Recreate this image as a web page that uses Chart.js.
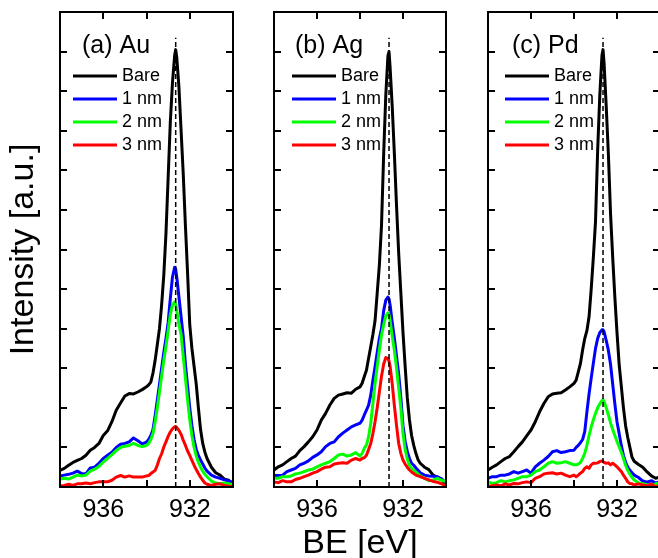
<!DOCTYPE html>
<html>
<head>
<meta charset="utf-8">
<script src="https://cdn.jsdelivr.net/npm/chart.js@4.4.0/dist/chart.umd.min.js"></script>
<style>
  html, body { margin: 0; padding: 0; background: #fff; width: 658px; height: 558px; overflow: hidden; }
  canvas { position: absolute; top: 0; }
</style>
</head>
<body>
<canvas id="panelA" width="250" height="558" style="left:0px"></canvas>
<canvas id="panelB" width="210" height="558" style="left:250px"></canvas>
<canvas id="panelC" width="220" height="558" style="left:460px"></canvas>
<script>
// Binding energy grid (eV), finer around the Cu 2p3/2 peak
const bindingEnergy = [
  938.0, 937.8, 937.6, 937.4, 937.2, 937.0, 936.8, 936.6, 936.4, 936.2,
  936.0, 935.8, 935.6, 935.4, 935.2, 935.0, 934.8, 934.6, 934.4, 934.2,
  934.0, 933.9, 933.8, 933.7, 933.6, 933.5, 933.4, 933.3, 933.2, 933.1,
  933.0, 932.9, 932.8, 932.7, 932.65, 932.6, 932.5, 932.4, 932.3, 932.2,
  932.1, 932.0, 931.9, 931.8, 931.7, 931.6, 931.5, 931.4, 931.3, 931.2,
  931.0, 930.8, 930.6, 930.4, 930.2, 930.0
];

const seriesNames = ['Bare', '1 nm', '2 nm', '3 nm'];
const seriesColors = ['#000000', '#0000ff', '#00ff00', '#ff0000'];
const xTickLabels = [936, 932];
const peakPosition = 932.65;
const dashTop = 11.35;

// (a) Au
const auBare = [
  0.42, 0.47, 0.55, 0.62, 0.67, 0.72, 0.80, 0.93, 1.00, 1.10,
  1.30, 1.42, 1.65, 1.94, 2.12, 2.30, 2.36, 2.35, 2.40, 2.46,
  2.53, 2.58, 2.65, 2.88, 3.20, 3.60, 4.00, 4.60, 5.35, 6.40,
  7.80, 9.20, 10.2, 10.9, 11.05, 10.85, 10.1, 9.00, 7.90, 6.60,
  5.40, 4.10, 3.50, 3.05, 2.60, 2.00, 1.45, 1.10, 0.88, 0.72,
  0.50, 0.36, 0.30, 0.20, 0.17, 0.04
];
const au1nm = [
  0.28, 0.30, 0.32, 0.35, 0.40, 0.34, 0.33, 0.48, 0.50, 0.60,
  0.72, 0.80, 0.88, 1.00, 1.08, 1.10, 1.14, 1.24, 1.17, 1.09,
  1.13, 1.20, 1.30, 1.45, 1.80, 2.20, 2.60, 3.00, 3.40, 3.75,
  4.15, 4.75, 5.30, 5.55, 5.50, 5.30, 4.80, 4.30, 3.80, 3.10,
  2.55, 2.00, 1.55, 1.20, 0.95, 0.80, 0.68, 0.58, 0.48, 0.40,
  0.30, 0.25, 0.22, 0.18, 0.15, 0.12
];
const au2nm = [
  0.20, 0.22, 0.20, 0.25, 0.30, 0.28, 0.30, 0.40, 0.45, 0.52,
  0.63, 0.72, 0.82, 0.92, 1.00, 1.03, 1.05, 1.10, 1.05, 1.02,
  1.05, 1.10, 1.20, 1.35, 1.65, 2.00, 2.40, 2.80, 3.20, 3.55,
  3.95, 4.35, 4.60, 4.67, 4.62, 4.45, 4.10, 3.85, 3.30, 2.75,
  2.20, 1.70, 1.30, 1.00, 0.78, 0.62, 0.50, 0.40, 0.32, 0.26,
  0.15, 0.10, 0.08, 0.10, 0.08, 0.06
];
const au3nm = [
  0.03, 0.04, 0.07, 0.04, 0.08, 0.08, 0.10, 0.08, 0.11, 0.13,
  0.13, 0.13, 0.17, 0.25, 0.29, 0.25, 0.28, 0.25, 0.25, 0.25,
  0.28, 0.29, 0.34, 0.38, 0.42, 0.55, 0.72, 0.84, 1.01, 1.14,
  1.28, 1.39, 1.47, 1.52, 1.53, 1.50, 1.43, 1.33, 1.18, 1.05,
  0.91, 0.80, 0.67, 0.55, 0.44, 0.34, 0.25, 0.17, 0.10, 0.07,
  0.04, 0.07, 0.08, 0.04, 0.02, 0.00
];

// (b) Ag
const agBare = [
  0.43, 0.51, 0.56, 0.64, 0.72, 0.78, 0.92, 1.02, 1.14, 1.27,
  1.44, 1.69, 1.86, 2.07, 2.24, 2.32, 2.35, 2.38, 2.37, 2.47,
  2.53, 2.62, 2.79, 2.95, 3.25, 3.55, 3.85, 4.20, 4.90, 5.60,
  6.60, 8.40, 9.90, 10.9, 11.0, 10.6, 9.60, 8.40, 7.10, 5.90,
  4.90, 3.90, 3.05, 2.25, 1.70, 1.30, 1.05, 0.85, 0.69, 0.60,
  0.50, 0.44, 0.30, 0.25, 0.20, 0.04
];
const ag1nm = [
  0.29, 0.29, 0.30, 0.39, 0.43, 0.47, 0.56, 0.60, 0.66, 0.75,
  0.81, 0.89, 1.02, 1.10, 1.14, 1.27, 1.36, 1.44, 1.52, 1.57,
  1.61, 1.69, 1.82, 1.94, 2.07, 2.32, 2.70, 3.04, 3.40, 3.75,
  4.00, 4.45, 4.72, 4.80, 4.75, 4.60, 4.15, 3.75, 3.30, 2.85,
  2.25, 1.55, 1.15, 0.90, 0.72, 0.60, 0.55, 0.48, 0.42, 0.36,
  0.30, 0.28, 0.27, 0.26, 0.20, 0.12
];
const ag2nm = [
  0.22, 0.22, 0.26, 0.26, 0.28, 0.33, 0.35, 0.39, 0.43, 0.45,
  0.51, 0.56, 0.60, 0.64, 0.72, 0.81, 0.83, 0.78, 0.81, 0.87,
  0.78, 0.85, 0.98, 1.06, 1.27, 1.61, 2.11, 2.62, 3.04, 3.46,
  3.84, 4.10, 4.32, 4.40, 4.35, 4.20, 3.80, 3.45, 3.00, 2.50,
  2.00, 1.35, 0.95, 0.70, 0.55, 0.47, 0.42, 0.38, 0.33, 0.28,
  0.22, 0.16, 0.18, 0.22, 0.17, 0.14
];
const ag3nm = [
  0.13, 0.11, 0.16, 0.13, 0.13, 0.19, 0.22, 0.26, 0.30, 0.35,
  0.39, 0.45, 0.50, 0.51, 0.58, 0.60, 0.61, 0.60, 0.68, 0.72,
  0.68, 0.72, 0.74, 0.80, 0.95, 1.10, 1.35, 1.65, 2.00, 2.40,
  2.80, 3.10, 3.27, 3.25, 3.18, 3.05, 2.60, 2.05, 1.55, 1.10,
  0.85, 0.68, 0.58, 0.50, 0.43, 0.38, 0.34, 0.30, 0.28, 0.26,
  0.22, 0.18, 0.14, 0.12, 0.08, 0.03
];

// (c) Pd
const pdBare = [
  0.43, 0.50, 0.56, 0.64, 0.72, 0.77, 0.89, 1.02, 1.14, 1.29,
  1.44, 1.65, 1.90, 2.11, 2.28, 2.35, 2.37, 2.38, 2.45, 2.53,
  2.62, 2.70, 2.91, 3.12, 3.46, 3.75, 3.95, 4.30, 5.00, 5.80,
  6.70, 8.50, 9.90, 10.9, 11.05, 10.7, 9.60, 8.40, 6.90, 5.80,
  4.80, 3.90, 3.10, 2.55, 2.00, 1.55, 1.25, 1.00, 0.75, 0.65,
  0.57, 0.50, 0.38, 0.28, 0.22, 0.26
];
const pd1nm = [
  0.22, 0.26, 0.26, 0.30, 0.30, 0.33, 0.39, 0.35, 0.39, 0.43,
  0.35, 0.51, 0.60, 0.68, 0.77, 0.89, 0.92, 0.87, 0.89, 0.92,
  0.93, 1.00, 1.05, 1.12, 1.20, 1.40, 1.90, 2.35, 2.75, 3.13,
  3.50, 3.75, 3.90, 3.97, 3.97, 3.92, 3.70, 3.45, 3.10, 2.60,
  2.10, 1.65, 1.35, 1.05, 0.80, 0.62, 0.50, 0.42, 0.36, 0.30,
  0.24, 0.15, 0.12, 0.16, 0.10, 0.14
];
const pd2nm = [
  0.13, 0.09, 0.11, 0.16, 0.13, 0.16, 0.18, 0.22, 0.26, 0.26,
  0.30, 0.39, 0.43, 0.51, 0.60, 0.64, 0.60, 0.61, 0.64, 0.60,
  0.56, 0.56, 0.58, 0.62, 0.72, 0.85, 1.05, 1.30, 1.52, 1.70,
  1.86, 2.00, 2.10, 2.18, 2.20, 2.16, 2.00, 1.82, 1.62, 1.45,
  1.30, 1.15, 1.02, 0.88, 0.72, 0.55, 0.42, 0.32, 0.24, 0.18,
  0.10, 0.08, 0.06, 0.05, 0.08, 0.10
];
const pd3nm = [
  0.01, 0.03, 0.05, 0.03, 0.08, 0.05, 0.09, 0.08, 0.11, 0.13,
  0.11, 0.22, 0.26, 0.33, 0.35, 0.36, 0.33, 0.35, 0.30, 0.26,
  0.30, 0.26, 0.30, 0.35, 0.39, 0.47, 0.51, 0.47, 0.56, 0.60,
  0.60, 0.61, 0.64, 0.66, 0.64, 0.62, 0.60, 0.61, 0.56, 0.60,
  0.56, 0.51, 0.45, 0.39, 0.30, 0.22, 0.13, 0.09, 0.08, 0.05,
  0.08, 0.05, 0.03, 0.08, 0.00, 0.05
];

const fontFamily = '"Liberation Sans", Arial, Helvetica, sans-serif';
Chart.defaults.font.family = fontFamily;
Chart.defaults.color = '#000';

// Frame with inward ticks, panel label and legend drawn inside the plot area
const framePlugin = {
  id: 'frame',
  afterDatasetsDraw(chart, args, opts) {
    const { ctx, chartArea: a, scales: { x, y } } = chart;
    ctx.save();
    ctx.strokeStyle = '#000';
    ctx.lineWidth = 2;
    ctx.strokeRect(a.left, a.top, a.right - a.left, a.bottom - a.top);
    ctx.beginPath();
    x.ticks.forEach((t) => {
      const px = Math.round(x.getPixelForValue(t.value));
      ctx.moveTo(px, a.bottom); ctx.lineTo(px, a.bottom - 7);
      ctx.moveTo(px, a.top); ctx.lineTo(px, a.top + 7);
    });
    y.ticks.forEach((t) => {
      const py = Math.round(y.getPixelForValue(t.value));
      ctx.moveTo(a.left, py); ctx.lineTo(a.left + 7, py);
      ctx.moveTo(a.right, py); ctx.lineTo(a.right - 7, py);
    });
    ctx.stroke();

    ctx.fillStyle = '#000';
    ctx.textBaseline = 'alphabetic';
    ctx.textAlign = 'left';
    ctx.font = '25px ' + fontFamily;
    ctx.fillText(opts.label, a.left + opts.labelDx, a.top + 41);

    ctx.font = '18px ' + fontFamily;
    ctx.textBaseline = 'middle';
    ctx.lineWidth = 3;
    seriesNames.forEach((name, i) => {
      const ry = a.top + 64 + i * 23;
      const lx = a.left + opts.legendDx;
      ctx.strokeStyle = seriesColors[i];
      ctx.beginPath();
      ctx.moveTo(lx, ry);
      ctx.lineTo(lx + 44, ry);
      ctx.stroke();
      ctx.fillText(name, lx + 49, ry);
    });
    ctx.restore();
  }
};

function toPoints(values) {
  return values.map((v, i) => ({ x: bindingEnergy[i], y: v }));
}

function drawPanel(canvasId, series, layout) {
  const datasets = series.map((values, i) => ({
    label: seriesNames[i],
    data: toPoints(values),
    borderColor: seriesColors[i],
    borderWidth: 3,
    pointRadius: 0,
    tension: 0,
    borderJoinStyle: 'round',
    order: 4 - i
  }));
  datasets.push({
    label: 'peak',
    data: [{ x: peakPosition, y: 0 }, { x: peakPosition, y: dashTop }],
    borderColor: '#000',
    borderWidth: 1.5,
    borderDash: [5, 3],
    pointRadius: 0,
    order: 0
  });

  new Chart(document.getElementById(canvasId), {
    type: 'line',
    data: { datasets },
    options: {
      responsive: false,
      animation: false,
      devicePixelRatio: 1,
      layout: { padding: { left: 0, top: 12, right: layout.rightPad, bottom: 0 } },
      plugins: {
        legend: { display: false },
        tooltip: { enabled: false },
        frame: { label: layout.label, labelDx: layout.labelDx, legendDx: layout.legendDx }
      },
      scales: {
        x: {
          type: 'linear',
          reverse: true,
          min: 930,
          max: 938,
          afterFit: (scale) => { scale.height = 71; },
          grid: { display: false, drawTicks: false },
          border: { display: false },
          ticks: {
            stepSize: 2,
            autoSkip: false,
            maxRotation: 0,
            padding: 8,
            font: { size: 25 },
            callback: (v) => xTickLabels.includes(v) ? String(v) : ''
          },
          title: {
            display: layout.xTitle,
            text: 'BE [eV]',
            font: { size: 34 },
            padding: { top: 0, bottom: -6 }
          }
        },
        y: {
          min: 0,
          max: 12,
          afterFit: (scale) => { scale.width = layout.yWidth; },
          grid: { display: false, drawTicks: false },
          border: { display: false },
          ticks: { display: false, stepSize: 1 },
          title: {
            display: layout.yTitle,
            text: 'Intensity [a.u.]',
            font: { size: 34 },
            padding: { top: 3, bottom: 0 }
          }
        }
      }
    },
    plugins: [framePlugin]
  });
}

drawPanel('panelA', [auBare, au1nm, au2nm, au3nm],
  { label: '(a) Au', yWidth: 60, rightPad: 17, labelDx: 22, legendDx: 13, yTitle: true, xTitle: false });
drawPanel('panelB', [agBare, ag1nm, ag2nm, ag3nm],
  { label: '(b) Ag', yWidth: 24, rightPad: 14, labelDx: 21, legendDx: 18, yTitle: false, xTitle: true });
drawPanel('panelC', [pdBare, pd1nm, pd2nm, pd3nm],
  { label: '(c) Pd', yWidth: 28, rightPad: 20, labelDx: 24, legendDx: 17, yTitle: false, xTitle: false });
</script>
</body>
</html>
